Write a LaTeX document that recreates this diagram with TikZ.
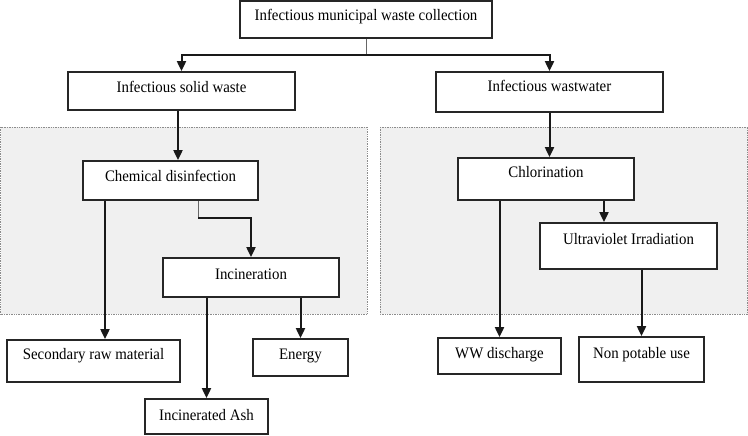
\documentclass[tikz,border=0pt]{standalone}
\usepackage{fontspec}
\setmainfont[FakeStretch=0.93]{Liberation Serif}
\usetikzlibrary{arrows.meta}

\begin{document}
\begin{tikzpicture}[x=1pt, y=-1pt,
        box/.style={draw=black!85, line width=1.8pt, fill=white, inner sep=0pt, text height=10pt, font=\fontsize{16}{18}\selectfont},
        arr/.style={draw=black!90, line width=2pt, -{Triangle[length=10pt,width=9pt]}},
        stub/.style={draw=black!60, line width=1pt},
        panel/.style={draw=black!45, densely dotted, line width=0.7pt, fill=black!6}]

        \useasboundingbox (0,0) rectangle (748,436);

        \draw[panel] (0.5,127) rectangle (367,314);
        \draw[panel] (380,127) rectangle (747.5,314);

        \node[box, minimum width=252pt, minimum height=37pt, text depth=7pt] (collect) at (366,19.5) {Infectious municipal waste collection};

        \node[box, minimum width=227pt, minimum height=38pt, text depth=6pt] (solid) at (181.5,91) {Infectious solid waste};
        \node[box, minimum width=227pt, minimum height=40pt, text depth=10pt] (water) at (549.5,92) {Infectious wastwater};

        \node[box, minimum width=175pt, minimum height=39pt, text depth=9pt] (chem) at (170.5,180.5) {Chemical disinfection};
        \node[box, minimum width=176pt, minimum height=39pt, text depth=7pt] (incin) at (251,277.5) {Incineration};

        \node[box, minimum width=176pt, minimum height=42pt, text depth=12pt] (chlor) at (546,179) {Chlorination};
        \node[box, minimum width=177pt, minimum height=46pt, text depth=14pt] (uv) at (628.5,246) {Ultraviolet Irradiation};

        \node[box, minimum width=173pt, minimum height=42pt, text depth=14pt] (second) at (93.5,361) {Secondary raw material};
        \node[box, minimum width=95pt, minimum height=37pt, text depth=7pt] (energy) at (300.5,357.5) {Energy};
        \node[box, minimum width=123pt, minimum height=35pt, text depth=3pt] (ash) at (206.5,416.5) {Incinerated Ash};

        \node[box, minimum width=123pt, minimum height=36pt, text depth=6pt] (ww) at (499.5,356) {WW discharge};
        \node[box, minimum width=125pt, minimum height=45pt, text depth=13pt] (nonpot) at (641.5,359.5) {Non potable use};

        \coordinate (split) at (366,55);
        \coordinate (bend) at (198,218);
        \coordinate (c1) at (178,0);
        \coordinate (c2) at (105,0);
        \coordinate (c3) at (604,0);

        \draw[stub] (collect) -- (split);
        \draw[arr] (split) -| (solid);
        \draw[arr] (split) -| (water);

        \draw[arr] (solid.south -| c1) -- (chem.north -| c1);
        \draw[stub] (chem.south -| bend) -- (bend);
        \draw[arr] (bend) -| (incin);
        \draw[arr] (chem.south -| c2) -- (second.north -| c2);
        \draw[arr] (incin.south -| ash) -- (ash);
        \draw[arr] (incin.south -| energy) -- (energy);

        \draw[arr] (water.south) -- (water.south |- chlor.north);
        \draw[arr] (chlor.south -| c3) -- (uv.north -| c3);
        \draw[arr] (chlor.south -| ww) -- (ww);
        \draw[arr] (uv.south -| nonpot) -- (nonpot);
    \end{tikzpicture}
\end{document}
